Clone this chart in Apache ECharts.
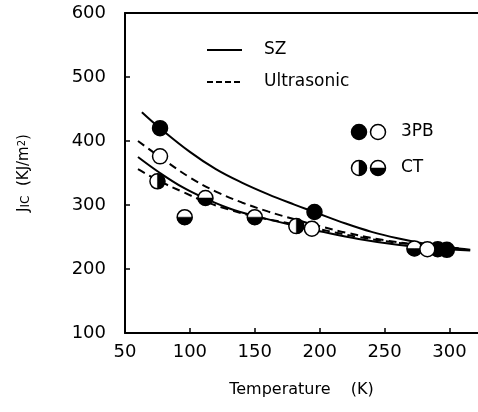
<!DOCTYPE html>
<html>
<head>
<meta charset="utf-8">
<script src="https://cdn.jsdelivr.net/npm/echarts@6/dist/echarts.min.js"></script>
<style>
  html, body { margin: 0; padding: 0; background: #fff; }
  #chart { width: 478px; height: 412px; }
</style>
</head>
<body>
<div id="chart"></div>
<script>
// Fracture toughness J_IC against temperature: fitted curves and measured points

// Tick values
const xTicks = [50, 100, 150, 200, 250, 300];
const yTicks = [100, 200, 300, 400, 500, 600];

// SZ curve through the 3PB points
const szUpperT = [63, 77, 100, 120, 140, 160, 180, 196, 220, 240, 260, 280, 300, 316];
const szUpperJ = [445, 420, 383, 356, 335, 317, 301, 289, 271, 258, 248, 240, 234, 230];

// Ultrasonic curve through the 3PB points
const usUpperT = [60, 77, 100, 120, 140, 160, 180, 200, 220, 250, 280, 305];
const usUpperJ = [400, 375, 343, 321, 304, 290, 278, 267, 257, 245, 237, 232];

// SZ curve through the CT points
const szLowerT = [60, 77, 95, 112, 130, 150, 182, 200, 230, 260, 290, 316];
const szLowerJ = [375, 350, 327, 310, 295, 283, 267, 259, 247, 238, 232, 229];

// Ultrasonic curve through the CT points
const usLowerT = [60, 77, 95, 112, 130, 150, 180, 200, 230, 260, 290, 310];
const usLowerJ = [356, 337, 320, 305, 293, 282, 270, 262, 250, 241, 235, 232];

// Measured points
const pb3SzT = [77, 196, 291, 298];
const pb3SzJ = [420, 289, 231, 230];
const pb3UsT = [77, 194, 283];
const pb3UsJ = [376, 263, 231];
const ctSzT = [75, 182];
const ctSzJ = [337, 267];
const ctUsT = [96, 112, 150, 273];
const ctUsJ = [281, 311, 281, 232];

const FONT = 'DejaVu Sans';
const R = 7.5;

function pairs(xs, ys) { return xs.map((x, i) => [x, ys[i]]); }

// half-black disc: 'right' = ◑ , 'bottom' = ◒
function halfDisc(cx, cy, side) {
  const a = side === 'right' ? [-Math.PI / 2, Math.PI / 2] : [0, Math.PI];
  return [
    { type: 'circle', shape: { cx: cx, cy: cy, r: R }, style: { fill: '#fff', stroke: '#000', lineWidth: 1.5 } },
    { type: 'sector', shape: { cx: cx, cy: cy, r0: 0, r: R, startAngle: a[0], endAngle: a[1], clockwise: true }, style: { fill: '#000', stroke: '#000', lineWidth: 0.5 } }
  ];
}

function halfSeries(xs, ys, side) {
  return {
    type: 'custom',
    z: 5,
    data: pairs(xs, ys),
    renderItem: function (params, api) {
      const p = api.coord([api.value(0), api.value(1)]);
      return { type: 'group', children: halfDisc(p[0], p[1], side) };
    }
  };
}

function curve(xs, ys, dashed) {
  return {
    type: 'line',
    data: pairs(xs, ys),
    smooth: 0.4,
    showSymbol: false,
    z: 2,
    lineStyle: { color: '#000', width: 2, type: dashed ? [8, 5] : 'solid' }
  };
}

const chart = echarts.init(document.getElementById('chart'), null, { renderer: 'canvas' });

const legendItems = [
  { type: 'line', shape: { x1: 207, y1: 50, x2: 242, y2: 50 }, style: { stroke: '#000', lineWidth: 2 } },
  { type: 'text', left: 264, top: 41, style: { text: 'SZ', font: '17px "' + FONT + '"', fill: '#000' } },
  { type: 'line', shape: { x1: 207, y1: 82, x2: 242, y2: 82 }, style: { stroke: '#000', lineWidth: 2, lineDash: [6, 3] } },
  { type: 'text', left: 264, top: 73, style: { text: 'Ultrasonic', font: '17px "' + FONT + '"', fill: '#000' } },
  { type: 'circle', shape: { cx: 359, cy: 132, r: R }, style: { fill: '#000', stroke: '#000', lineWidth: 1.5 } },
  { type: 'circle', shape: { cx: 378, cy: 132, r: R }, style: { fill: '#fff', stroke: '#000', lineWidth: 1.5 } },
  { type: 'text', left: 401, top: 123, style: { text: '3PB', font: '17px "' + FONT + '"', fill: '#000' } },
  { type: 'group', children: halfDisc(359, 168, 'right').concat(halfDisc(378, 168, 'bottom')) },
  { type: 'text', left: 401, top: 159, style: { text: 'CT', font: '17px "' + FONT + '"', fill: '#000' } }
];

chart.setOption({
  animation: false,
  backgroundColor: '#fff',
  grid: { left: 125, right: 0, top: 13, bottom: 79, containLabel: false },
  xAxis: [{
    type: 'value',
    min: 50, max: 322,
    interval: 50,
    position: 'bottom',
    name: 'Temperature    (K)',
    nameLocation: 'middle',
    nameGap: 49,
    nameTextStyle: { fontFamily: FONT, fontSize: 16, color: '#000' },
    axisLine: { show: true, onZero: false, lineStyle: { color: '#000', width: 2 } },
    axisTick: { show: true, inside: true, length: 5, customValues: xTicks, lineStyle: { color: '#000', width: 1.5 } },
    axisLabel: { customValues: xTicks, fontFamily: FONT, fontSize: 18, color: '#000', margin: 10 },
    splitLine: { show: false }
  }, {
    type: 'value',
    min: 50, max: 322,
    position: 'top',
    axisLine: { show: true, onZero: false, lineStyle: { color: '#000', width: 2 } },
    axisTick: { show: false },
    axisLabel: { show: false },
    splitLine: { show: false }
  }],
  yAxis: {
    type: 'value',
    min: 100, max: 600,
    interval: 100,
    name: '{j|J}{s|IC}  (KJ/m{p|2})',
    nameLocation: 'middle',
    nameRotate: 90,
    nameGap: 93,
    nameTextStyle: {
      fontFamily: FONT, fontSize: 15, color: '#000',
      rich: {
        j: { fontFamily: FONT, fontSize: 15, color: '#000' },
        s: { fontFamily: FONT, fontSize: 12, color: '#000', verticalAlign: 'bottom' },
        p: { fontFamily: FONT, fontSize: 10, color: '#000', verticalAlign: 'top' }
      }
    },
    axisLine: { show: true, onZero: false, lineStyle: { color: '#000', width: 2 } },
    axisTick: { show: true, inside: true, length: 5, lineStyle: { color: '#000', width: 1.5 } },
    axisLabel: { fontFamily: FONT, fontSize: 18, color: '#000', margin: 19 },
    splitLine: { show: false }
  },
  series: [
    curve(szUpperT, szUpperJ, false),
    curve(usUpperT, usUpperJ, true),
    curve(szLowerT, szLowerJ, false),
    curve(usLowerT, usLowerJ, true),
    {
      type: 'scatter', z: 5, symbol: 'circle', symbolSize: 2 * R,
      itemStyle: { color: '#000', borderColor: '#000', borderWidth: 1.5, opacity: 1 },
      data: pairs(pb3SzT, pb3SzJ)
    },
    {
      type: 'scatter', z: 5, symbol: 'circle', symbolSize: 2 * R,
      itemStyle: { color: '#fff', borderColor: '#000', borderWidth: 1.5, opacity: 1 },
      data: pairs(pb3UsT, pb3UsJ)
    },
    halfSeries(ctSzT, ctSzJ, 'right'),
    halfSeries(ctUsT, ctUsJ, 'bottom')
  ],
  graphic: legendItems
});
</script>
</body>
</html>
